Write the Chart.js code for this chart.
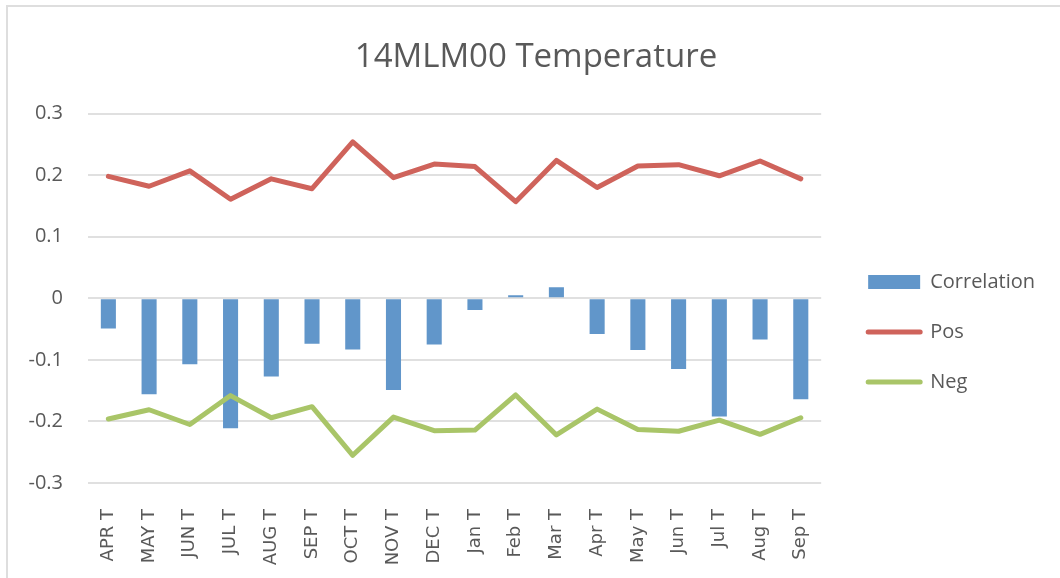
<!DOCTYPE html>
<html>
<head>
<meta charset="utf-8">
<script src="https://cdn.jsdelivr.net/npm/chart.js@4/dist/chart.umd.min.js"></script>
<style>
    html, body { margin: 0; padding: 0; background: #fff; overflow: hidden; }
    #wrap { position: relative; width: 1060px; height: 578px; }
    #frame {
        position: absolute; left: 6px; top: 5px; width: 1100px; height: 620px;
        border-left: 2px solid #DEDEDE; border-top: 2px solid #DEDEDE;
    }
    #chart { position: absolute; left: 0; top: 0; }
</style>
</head>
<body>
<div id="wrap">
    <div id="frame"></div>
    <canvas id="chart" width="1060" height="578"></canvas>
</div>
<script>
const TITLE = '14MLM00 Temperature';

const categories = ['APR T', 'MAY T', 'JUN T', 'JUL T', 'AUG T', 'SEP T', 'OCT T', 'NOV T', 'DEC T',
    'Jan T', 'Feb T', 'Mar T', 'Apr T', 'May T', 'Jun T', 'Jul T', 'Aug T', 'Sep T'];

const correlation = [-0.049, -0.156, -0.107, -0.211, -0.127, -0.074, -0.083, -0.149, -0.075,
    -0.019, 0.005, 0.018, -0.058, -0.084, -0.115, -0.192, -0.067, -0.164];

const pos = [0.198, 0.182, 0.207, 0.161, 0.194, 0.178, 0.254, 0.196, 0.218,
    0.214, 0.157, 0.224, 0.180, 0.215, 0.217, 0.199, 0.223, 0.194];

const neg = [-0.196, -0.181, -0.205, -0.158, -0.194, -0.176, -0.255, -0.193, -0.215,
    -0.214, -0.157, -0.222, -0.180, -0.213, -0.216, -0.198, -0.221, -0.194];

const yTicks = [-0.3, -0.2, -0.1, 0, 0.1, 0.2, 0.3];

const TEXT = '#595959';
const GRID = '#E0E0E0';
const BLUE = '#6196CA';
const RED = '#CF635B';
const GREEN = '#A9C568';

const ctx = document.getElementById('chart').getContext('2d');

new Chart(ctx, {
    data: {
        labels: categories,
        datasets: [
            {
                type: 'bar',
                label: 'Correlation',
                data: correlation,
                backgroundColor: BLUE,
                borderWidth: 0,
                categoryPercentage: 1,
                barPercentage: 0.37,
                order: 1,
                pointStyle: 'rect'
            },
            {
                type: 'line',
                label: 'Pos',
                data: pos,
                borderColor: RED,
                backgroundColor: RED,
                borderWidth: 5,
                borderJoinStyle: 'round',
                borderCapStyle: 'round',
                pointRadius: 0,
                pointHoverRadius: 0,
                pointStyle: 'line',
                tension: 0,
                order: 0
            },
            {
                type: 'line',
                label: 'Neg',
                data: neg,
                borderColor: GREEN,
                backgroundColor: GREEN,
                borderWidth: 5,
                borderJoinStyle: 'round',
                borderCapStyle: 'round',
                pointRadius: 0,
                pointHoverRadius: 0,
                pointStyle: 'line',
                tension: 0,
                order: 0
            }
        ]
    },
    options: {
        responsive: false,
        animation: false,
        layout: { padding: { left: 27, right: 15, top: 0, bottom: 0 } },
        plugins: {
            title: {
                display: true,
                text: TITLE,
                color: TEXT,
                font: { family: "'Open Sans', sans-serif", size: 33, weight: 'normal' },
                padding: { top: 38, bottom: 36 }
            },
            legend: {
                position: 'right',
                maxWidth: 400,
                // empty title, only used to push the items down
                title: { display: true, text: ' ', font: { size: 10 }, padding: { top: 37, bottom: 37 } },
                labels: {
                    color: TEXT,
                    font: { family: "'Open Sans', sans-serif", size: 20 },
                    usePointStyle: true,
                    pointStyleWidth: 52,
                    boxHeight: 14,
                    padding: 30,
                    sort: (a, b) => a.datasetIndex - b.datasetIndex,
                    generateLabels(chart) {
                        const items = Chart.defaults.plugins.legend.labels.generateLabels(chart);
                        items.forEach(it => {
                            if (it.pointStyle === 'line') {
                                it.lineWidth = 5;
                                it.lineCap = 'round';
                            } else {
                                it.lineWidth = 0;
                            }
                        });
                        return items;
                    }
                }
            },
            tooltip: { enabled: false }
        },
        scales: {
            x: {
                grid: { display: false },
                border: { display: false },
                ticks: {
                    color: TEXT,
                    font: { family: "'DejaVu Sans', sans-serif", size: 18 },
                    minRotation: 90,
                    maxRotation: 90,
                    padding: 18,
                    autoSkip: false
                },
                afterFit: s => { s.height = 95; }
            },
            y: {
                min: -0.3,
                max: 0.3,
                grid: { color: GRID, lineWidth: 2, drawTicks: false },
                border: { display: false },
                afterBuildTicks: s => { s.ticks = yTicks.map(v => ({ value: v })); },
                ticks: {
                    color: TEXT,
                    font: { family: "'Open Sans', sans-serif", size: 20 },
                    padding: 25,
                    callback: v => String(Number(v.toFixed(1)))
                },
                afterFit: s => { s.width = 61; }
            },
            // spacer between plot area and legend
            gap: {
                type: 'linear',
                position: 'right',
                display: true,
                grid: { display: false },
                border: { display: false },
                ticks: { display: false },
                afterFit: s => { s.width = 17; }
            }
        }
    }
});
</script>
</body>
</html>
